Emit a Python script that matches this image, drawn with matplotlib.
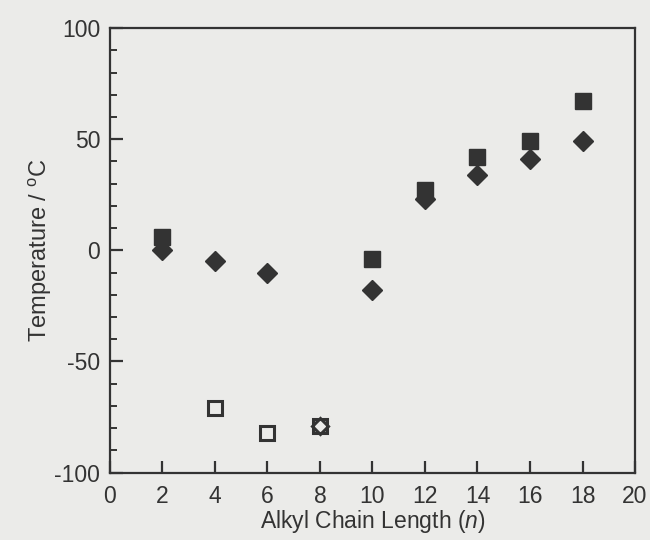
import matplotlib
matplotlib.use("Agg")
import matplotlib.pyplot as plt

plt.rcParams['font.family'] = ['Liberation Sans', 'DejaVu Sans']
plt.rcParams['mathtext.fontset'] = 'custom'
plt.rcParams['mathtext.rm'] = 'Liberation Sans'
plt.rcParams['mathtext.it'] = 'Liberation Sans:italic'
plt.rcParams['axes.unicode_minus'] = False

# Data
n_sq = [2, 10, 12, 14, 16, 18]
t_sq = [6, -4, 27, 42, 49, 67]
n_dia = [2, 4, 6, 10, 12, 14, 16, 18]
t_dia = [0, -5, -10, -18, 23, 34, 41, 49]
n_open_sq = [4, 6, 8]
t_open_sq = [-71, -82, -79]
n_open_dia = [8]
t_open_dia = [-79]

x_ticks = [0, 2, 4, 6, 8, 10, 12, 14, 16, 18, 20]
y_ticks = [-100, -50, 0, 50, 100]

bg = '#ebebe9'
ink = '#333333'

fig = plt.figure(figsize=(6.5, 5.4), dpi=100, facecolor=bg)
ax = fig.add_axes([0.169, 0.125, 0.808, 0.823], facecolor=bg)

ax.plot(n_sq, t_sq, 's', color=ink, ms=11, mec=ink, zorder=3)
ax.plot(n_dia, t_dia, 'D', color=ink, ms=10, mec=ink, zorder=4)
ax.plot(n_open_dia, t_open_dia, 'D', mfc=bg, mec=ink, ms=8.5, mew=2.2, zorder=5)
ax.plot(n_open_sq, t_open_sq, 's', mfc='none', mec=ink, ms=10, mew=2.2, zorder=6)

ax.set_xlim(0, 20)
ax.set_ylim(-100, 100)
ax.set_xticks(x_ticks)
ax.set_yticks(y_ticks)
ax.set_yticks(list(range(-90, 100, 10)), minor=True)

ax.tick_params(axis='both', which='major', direction='in', length=9, width=1.6,
               colors=ink, labelsize=16.5, top=False, right=False)
ax.tick_params(axis='y', which='minor', direction='in', length=5, width=1.4,
               colors=ink, right=False)
ax.tick_params(axis='x', which='major', pad=9)
ax.tick_params(axis='y', which='major', pad=7)

for s in ax.spines.values():
    s.set_color(ink)
    s.set_linewidth(1.6)

ax.set_xlabel('Alkyl Chain Length ($\\it{n}$)', fontsize=16.5, color=ink, labelpad=0)
ax.set_ylabel('Temperature / $^{\\rm o}$C', fontsize=17, color=ink, labelpad=0)

fig.savefig('out.png', dpi=100, facecolor=bg)
